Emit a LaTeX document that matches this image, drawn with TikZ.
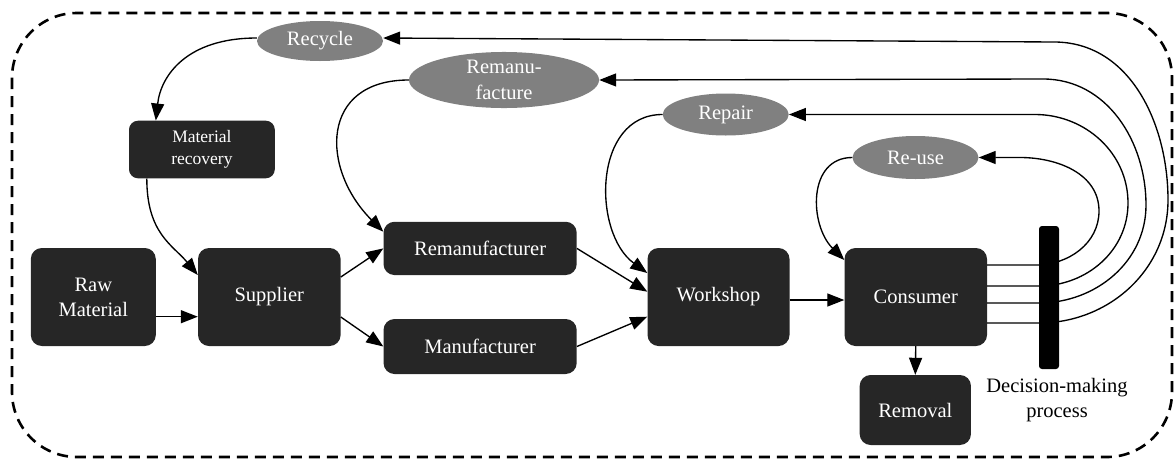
\documentclass[tikz,border=0pt]{standalone}
\usepackage{fontspec}
\setmainfont{Liberation Serif}
\usetikzlibrary{arrows.meta,shapes.geometric}
\definecolor{boxfill}{HTML}{262626}
\definecolor{ovalfill}{HTML}{808080}
\begin{document}
\begin{tikzpicture}[x=1pt,y=-1pt,
  box/.style={fill=boxfill, rounded corners=11pt, text=white, align=center, inner sep=0pt,
    font=\fontsize{20.5}{25}\selectfont},
  oval/.style={ellipse, fill=ovalfill, text=white, align=center, inner sep=0pt,
    font=\fontsize{20.5}{26}\selectfont},
  flow/.style={line width=1.35pt, -{Triangle[length=17pt,width=13pt]}},
  frame/.style={line width=2.6pt, dash pattern=on 11pt off 7pt, rounded corners=65pt}
]
\useasboundingbox (0,0) rectangle (1175,461);

% system boundary
\draw[frame] (12,13) rectangle (1172,457);

% forward chain
\node[box, minimum width=125pt, minimum height=98pt] (raw) at (93.3,297) {Raw\\Material};
\node[box, minimum width=142.6pt, minimum height=98pt] (supplier) at (269.3,297) {Supplier};
\node[box, minimum width=193.2pt, minimum height=53.3pt] (remfr) at (480.1,248.4) {Remanufacturer};
\node[box, minimum width=193.2pt, minimum height=55pt] (manfr) at (480.1,346.5) {Manufacturer};
\node[box, minimum width=142pt, minimum height=98pt] (workshop) at (718.5,297) {Workshop};
\node[box, minimum width=142.5pt, minimum height=98pt] (consumer) at (915.75,297) {Consumer};
\node[box, minimum width=111.3pt, minimum height=70pt] (removal) at (915.3,410) {Removal};
\node[box, rounded corners=9pt, minimum width=145.8pt, minimum height=57.6pt,
  font=\fontsize{17.5}{22}\selectfont] (matrec) at (201.9,149.5) {Material\\recovery};

% recovery options
\node[oval, minimum width=126pt, minimum height=40pt] (recycle) at (320,41) {Recycle};
\node[oval, minimum width=190pt, minimum height=54pt] (remanu) at (504,80) {Remanu-\\facture};
\node[oval, minimum width=126pt, minimum height=42pt] (repair) at (725.7,114.5) {Repair};
\node[oval, minimum width=126pt, minimum height=43pt] (reuse) at (915.5,157.5) {Re-use};

% decision bar position and caption
\coordinate (bar) at (1049,297.5);
\node[align=center, font=\fontsize{20.5}{25}\selectfont] (dectext) at (1057,400)
  {Decision-making\\process};

% forward flows
\draw[flow] (raw.east |- 0,316.7) -- (supplier.west |- 0,316.7);
\draw[flow] (supplier.east |- 0,277) -- (remfr.west);
\draw[flow] (supplier.east |- 0,317) -- (manfr.west);
\draw[flow] (remfr.east) -- (workshop.west |- 0,291.7);
\draw[flow] (manfr.east) -- (workshop.west |- 0,316.7);
\draw[flow] (workshop.east |- 0,300) -- (consumer.west |- 0,300);
\draw[flow] (consumer.south) -- (removal.north);

% return loops into the chain
\draw[flow] (recycle.west |- 0,38) .. controls +(-70,0) and +(5,-45) .. ([xshift=27pt]matrec.north west);
\draw[flow] ([xshift=18pt]matrec.south west) .. controls +(0,55) and +(-25,-30) .. (supplier.west |- 0,275);
\draw[flow] (remanu.west) .. controls +(-89,0) and +(-63,-63) .. (remfr.west |- 0,231.7);
\draw[flow] (repair.west) .. controls +(-70,0) and +(-55,-40) .. (workshop.west |- 0,273);
\draw[flow] (reuse.west) .. controls +(-45,0) and +(-35,-35) .. (consumer.west |- 0,260);

% decision outputs back to the recovery options
\coordinate (d1) at (1036,265);
\coordinate (d2) at (1039,286);
\coordinate (d3) at (1039,303);
\coordinate (d4) at (1039,323);
\draw[flow] (consumer.east |- d1) -- (d1) to[out=0,in=-90] (1099,211) to[out=90,in=0] (1020,157.5) -- (reuse.east);
\draw[flow] (consumer.east |- d2) -- (d2) to[out=0,in=-90] (1128,203) to[out=90,in=0] (1035,114.5) -- (repair.east);
\draw[flow] (consumer.east |- d3) -- (d3) to[out=0,in=-90] (1146,205) to[out=90,in=0] (1043,79) -- (remanu.east);
\draw[flow] (consumer.east |- d4) -- (d4) to[out=0,in=-90] (1168,200) to[out=90,in=0] (1054,42) -- (recycle.east |- 0,38);

% bar drawn over the passing lines
\node[fill=black, rounded corners=3pt, minimum width=20pt, minimum height=143pt, inner sep=0pt]
  (decbar) at (bar) {};
\end{tikzpicture}
\end{document}
